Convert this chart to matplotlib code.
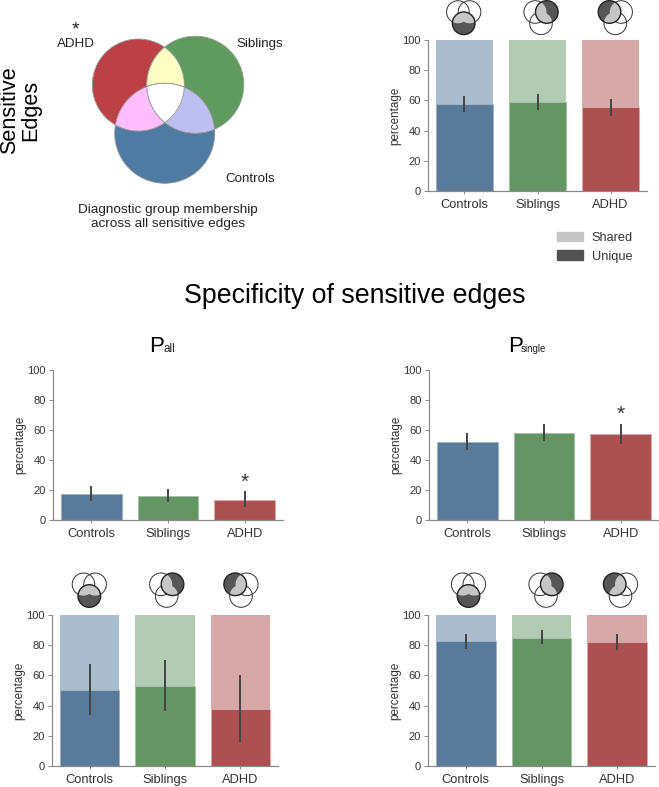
import numpy as np
import matplotlib
matplotlib.use('Agg')
import matplotlib.pyplot as plt
from matplotlib.patches import Circle, Polygon, Patch

W, H = 659, 787
plt.rcParams['font.family'] = ['Liberation Sans', 'DejaVu Sans']

GROUPS = ['Controls', 'Siblings', 'ADHD']
TICKS = [0, 20, 40, 60, 80, 100]

# values
TOP_UNIQUE = [57.5, 59, 55.5]
TOP_LOW = [52.5, 53.5, 50]
TOP_HIGH = [63, 64.5, 61]

PALL = [17.5, 16, 13.5]
PALL_LOW = [13, 12, 9]
PALL_HIGH = [23, 21, 19.5]

PSINGLE = [52, 58, 57.5]
PSINGLE_LOW = [47, 53, 51]
PSINGLE_HIGH = [58, 64, 64]

BL_UNIQUE = [50.5, 53, 38]
BL_LOW = [34, 36.5, 16]
BL_HIGH = [67.5, 70, 60]

BR_UNIQUE = [82.5, 85, 82]
BR_LOW = [77.5, 80.5, 77]
BR_HIGH = [87.5, 90, 87.5]

DARK = ['#5a7a99', '#659565', '#ab5151']
LIGHT = ['#abbccd', '#b3cbb3', '#d7a8a8']
EDGE = ['#9fb3c8', '#a5c2a5', '#dca9a9']
TEXT = '#333333'
SPINE = '#8a8a8a'

fig = plt.figure(figsize=(W / 100, H / 100), dpi=100, facecolor='white')


def bar_axes(left, right, top, bottom, values, low, high, stacked=False):
    ax = fig.add_axes([left / W, 1 - bottom / H, (right - left) / W, (bottom - top) / H])
    x = np.arange(3)
    if stacked:
        ax.bar(x, [100] * 3, width=0.79, color=LIGHT, edgecolor='none')
    ax.bar(x, values, width=0.79, color=DARK, edgecolor=EDGE, linewidth=0.7)
    ax.vlines(x, low, high, color='#444444', linewidth=1.4, zorder=5)
    ax.set_xlim(-0.5, 2.5)
    ax.set_ylim(0, 100)
    ax.set_xticks(x, GROUPS, fontsize=9.3, color=TEXT)
    ax.set_yticks(TICKS, [str(t) for t in TICKS], fontsize=8, color=TEXT)
    ax.set_ylabel('percentage', fontsize=8.4, color=TEXT, labelpad=1)
    ax.tick_params(axis='x', length=2, width=0.7, color=SPINE, pad=3.5)
    ax.tick_params(axis='y', length=3, width=0.7, color=SPINE, pad=2)
    for side in ['top', 'right']:
        ax.spines[side].set_visible(False)
    for side in ['left', 'bottom']:
        ax.spines[side].set_color(SPINE)
        ax.spines[side].set_linewidth(0.9)
    return ax


ax_top = bar_axes(428, 647, 40, 191, TOP_UNIQUE, TOP_LOW, TOP_HIGH, stacked=True)
ax_pall = bar_axes(53, 283, 370, 520, PALL, PALL_LOW, PALL_HIGH)
ax_psingle = bar_axes(429, 659, 370, 520, PSINGLE, PSINGLE_LOW, PSINGLE_HIGH)
ax_bl = bar_axes(52, 278, 615, 766, BL_UNIQUE, BL_LOW, BL_HIGH, stacked=True)
ax_br = bar_axes(428, 655, 615, 766, BR_UNIQUE, BR_LOW, BR_HIGH, stacked=True)

ax_pall.text(2, 25, '*', ha='center', va='center', fontsize=15, color=TEXT)
ax_psingle.text(2, 70.5, '*', ha='center', va='center', fontsize=15, color=TEXT)

ax_top.legend(handles=[Patch(color='#c6c6c6', label='Shared'), Patch(color='#525252', label='Unique')],
              loc='upper left', bbox_to_anchor=((555 - 428) / 219 - 0.02, -0.227), frameon=False,
              fontsize=9.2, handlelength=2.07, handleheight=0.8, handletextpad=0.65,
              labelspacing=0.5, borderpad=0, labelcolor=TEXT)

# overlay in pixel coordinates for venn, icons and free text
ov = fig.add_axes([0, 0, 1, 1], zorder=10)
ov.set_xlim(0, W)
ov.set_ylim(H, 0)
ov.axis('off')
ov.patch.set_alpha(0)

RED = (138.3, 85, 46)
GREEN = (195.3, 84.7, 48.5)
BLUE = (164.7, 133.3, 50)


def overlap(circles):
    """points of the convex overlap of some circles, sorted around the middle"""
    t = np.linspace(0, 2 * np.pi, 1500)
    pts = []
    for cx, cy, r in circles:
        p = np.column_stack([cx + r * np.cos(t), cy + r * np.sin(t)])
        keep = np.ones(len(p), bool)
        for ox, oy, or_ in circles:
            keep &= np.hypot(p[:, 0] - ox, p[:, 1] - oy) <= or_ + 1e-6
        pts.append(p[keep])
    pts = np.vstack(pts)
    mid = pts.mean(axis=0)
    return pts[np.argsort(np.arctan2(pts[:, 1] - mid[1], pts[:, 0] - mid[0]))]


VENN_EDGE = '#999999'
for (cx, cy, r), col in zip([BLUE, RED, GREEN], ['#4f7aa1', '#bc4146', '#5f9a5f']):
    ov.add_patch(Circle((cx, cy), r, fc=col, ec=VENN_EDGE, lw=0.6))
for group, col in [((RED, GREEN), '#ffffc4'), ((RED, BLUE), '#ffbfff'),
                   ((GREEN, BLUE), '#bcbff0'), ((RED, GREEN, BLUE), '#ffffff')]:
    ov.add_patch(Polygon(overlap(group), closed=True, fc=col, ec=VENN_EDGE, lw=0.6))

ov.text(75.5, 44, 'ADHD', ha='center', va='center', fontsize=9.6, color='#222222')
ov.text(75, 30, '*', ha='center', va='center', fontsize=14, color='#222222')
ov.text(260, 44.5, 'Siblings', ha='center', va='center', fontsize=9.6, color='#222222')
ov.text(250, 179, 'Controls', ha='center', va='center', fontsize=9.6, color='#222222')
ov.text(168, 217, 'Diagnostic group membership\nacross all sensitive edges', ha='center', va='center',
        fontsize=9.7, color='#222222', linespacing=1.12)
ov.text(20.5, 110, 'Sensitive\nEdges', ha='center', va='center', rotation=90, fontsize=15.6,
        color='black', linespacing=1.0, multialignment='center')
ov.text(354.5, 296, 'Specificity of sensitive edges', ha='center', va='center', fontsize=19.3, color='black')

# subscripted panel titles
ov.text(149, 352, 'P', ha='left', va='baseline', fontsize=16, color='black')
ov.text(163, 352, 'all', ha='left', va='baseline', fontsize=8.5, color='#222222')
ov.text(508.5, 352, 'P', ha='left', va='baseline', fontsize=16, color='black')
ov.text(521, 352, 'single', ha='left', va='baseline', fontsize=7, color='#222222')


def icon(cx, top_y, bottom_y, which):
    """small venn; the group's own circle split in shared (light) and unique (dark)"""
    r = 11.3
    circles = {'ADHD': (cx - 5.8, top_y), 'Siblings': (cx + 5.8, top_y), 'Controls': (cx, bottom_y)}
    main = circles[which]
    for name, c in circles.items():
        if name != which:
            ov.add_patch(Circle(c, r, fc='none', ec='#333333', lw=0.7))
    base = Circle(main, r, fc='#565656', ec='none')
    ov.add_patch(base)
    for name, c in circles.items():
        if name != which:
            part = Circle(c, r, fc='#c6c6c6', ec='none')
            ov.add_patch(part)
            part.set_clip_path(base)
    ov.add_patch(Circle(main, r, fc='none', ec='#222222', lw=1.0))


for xs, (ty, by) in [([463.7, 541, 615.3], (12, 23.3)),
                     ([89.3, 166.7, 241], (584.3, 596)),
                     ([468.5, 546, 620.5], (584.3, 596))]:
    for x, g in zip(xs, GROUPS):
        icon(x, ty, by, g)

plt.savefig('out.png', dpi=100, facecolor='white')
